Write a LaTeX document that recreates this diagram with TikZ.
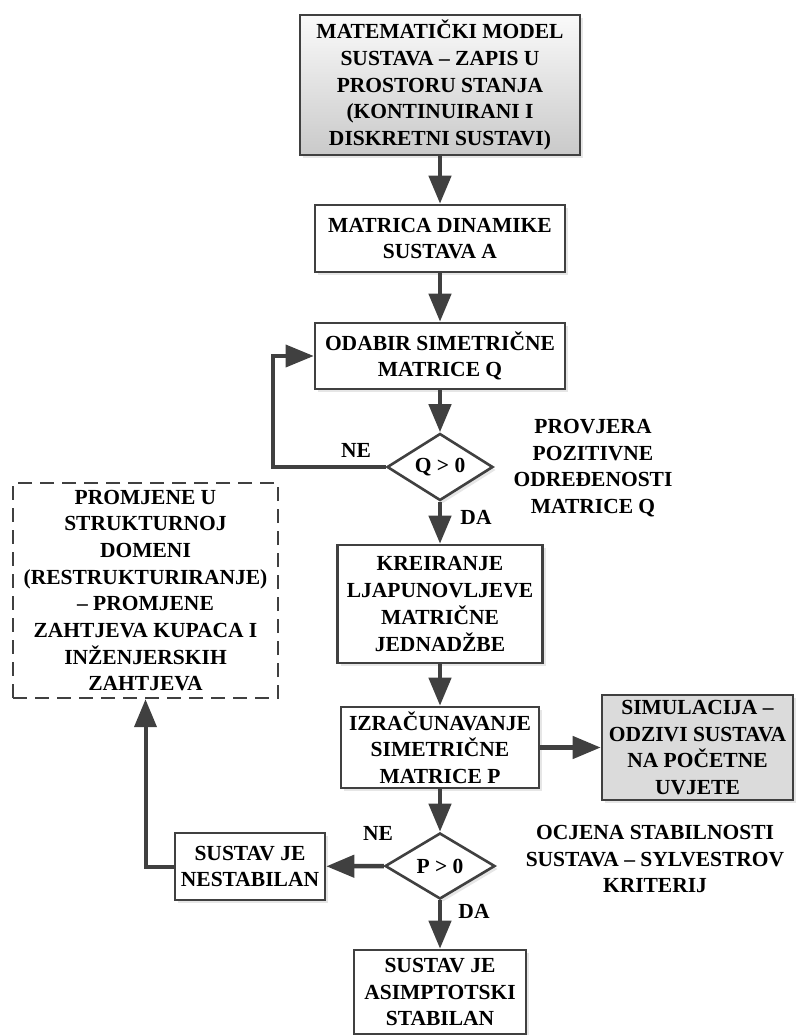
\documentclass[tikz,border=0pt]{standalone}
\usepackage{fontspec}
\setmainfont{Liberation Serif}
\usepackage{tikz}
\usepackage{xcolor}
\usetikzlibrary{
    arrows.meta,
    shapes.geometric,
    shadows,
    calc,
    positioning
}
\definecolor{linegray}{HTML}{404040}
\newcommand{\diagfont}{\fontsize{21.5}{26.7}\selectfont\bfseries}
\tikzset{
    box/.style={draw=linegray, line width=2.6pt, fill=white, align=center,
        inner sep=0pt, font=\diagfont,
        drop shadow={opacity=0.2, shadow xshift=3pt, shadow yshift=-3pt}},
    decision/.style={box, diamond, aspect=1.6},
    dashbox/.style={draw=linegray, line width=2.4pt, dash pattern=on 14pt off 8pt,
        align=center, inner sep=0pt, font=\diagfont},
    lbl/.style={align=center, inner sep=0pt, font=\diagfont},
    flow/.style={draw=linegray, line width=4.5pt,
        -{Triangle[length=28pt, width=22pt]}}
}

\begin{document}
\begin{tikzpicture}[x=1pt, y=-1pt]
                        \useasboundingbox (0, 0) rectangle (795, 1035);
                        % main column
                        \node[box, minimum width=280pt, minimum height=140pt,
                            top color=gray!4, bottom color=gray!42] (model) at (440, 85)
                            {MATEMATIČKI MODEL\\SUSTAVA – ZAPIS U\\PROSTORU STANJA\\(KONTINUIRANI I\\DISKRETNI SUSTAVI)};
                        \node[box, minimum width=250pt, minimum height=67pt] (dinamika) at (440, 238.5)
                            {MATRICA DINAMIKE\\SUSTAVA A};
                        \node[box, minimum width=250pt, minimum height=66pt] (odabirq) at (440, 356)
                            {ODABIR SIMETRIČNE\\MATRICE Q};
                        \node[decision, minimum width=106pt, minimum height=67pt] (uvjetq) at (440, 467)
                            {Q > 0};
                        \node[box, minimum width=205pt, minimum height=118pt] (ljapunov) at (440, 604)
                            {KREIRANJE\\LJAPUNOVLJEVE\\MATRIČNE\\JEDNADŽBE};
                        \node[box, minimum width=198pt, minimum height=81pt] (racunp) at (440, 747.5)
                            {IZRAČUNAVANJE\\SIMETRIČNE\\MATRICE P};
                        \node[decision, minimum width=110pt, minimum height=66pt] (uvjetp) at (440, 866)
                            {P > 0};
                        \node[box, minimum width=172pt, minimum height=84pt] (stabilan) at (440, 992)
                            {SUSTAV JE\\ASIMPTOTSKI\\STABILAN};
                        % side boxes
                        \node[box, minimum width=191pt, minimum height=105pt, fill=gray!28] (simulacija) at (697.5, 747.5)
                            {SIMULACIJA –\\ODZIVI SUSTAVA\\NA POČETNE\\UVJETE};
                        \node[box, minimum width=150pt, minimum height=67pt] (nestabilan) at (250, 866.5)
                            {SUSTAV JE\\NESTABILAN};
                        \node[dashbox, minimum width=265pt, minimum height=215pt] (promjene) at (145.5, 590.5)
                            {PROMJENE U\\STRUKTURNOJ\\DOMENI\\(RESTRUKTURIRANJE)\\– PROMJENE\\ZAHTJEVA KUPACA I\\INŽENJERSKIH\\ZAHTJEVA};
                        % labels
                        \node[lbl] (neq) at (356, 450) {NE};
                        \node[lbl] (daq) at (476, 517) {DA};
                        \node[lbl] (provjera) at (593, 468)
                            {PROVJERA\\POZITIVNE\\ODREĐENOSTI\\MATRICE Q};
                        \node[lbl] (nep) at (378, 833) {NE};
                        \node[lbl] (dap) at (474, 911) {DA};
                        \node[lbl] (ocjena) at (655, 859)
                            {OCJENA STABILNOSTI\\SUSTAVA – SYLVESTROV\\KRITERIJ};
                        \coordinate (povratq) at (273, 467);
                        \foreach \a/\b in {model/dinamika, dinamika/odabirq, odabirq/uvjetq,
                            uvjetq/ljapunov, ljapunov/racunp, racunp/simulacija,
                            racunp/uvjetp, uvjetp/stabilan, uvjetp/nestabilan}
                            \draw[flow] (\a) -- (\b);
                        \draw[flow, line width=3.6pt] (uvjetq.west) -- (povratq) |- (odabirq.west);
                        \draw[flow, line width=4pt] (nestabilan.west) -| (promjene.south);
                    \end{tikzpicture}
\end{document}
